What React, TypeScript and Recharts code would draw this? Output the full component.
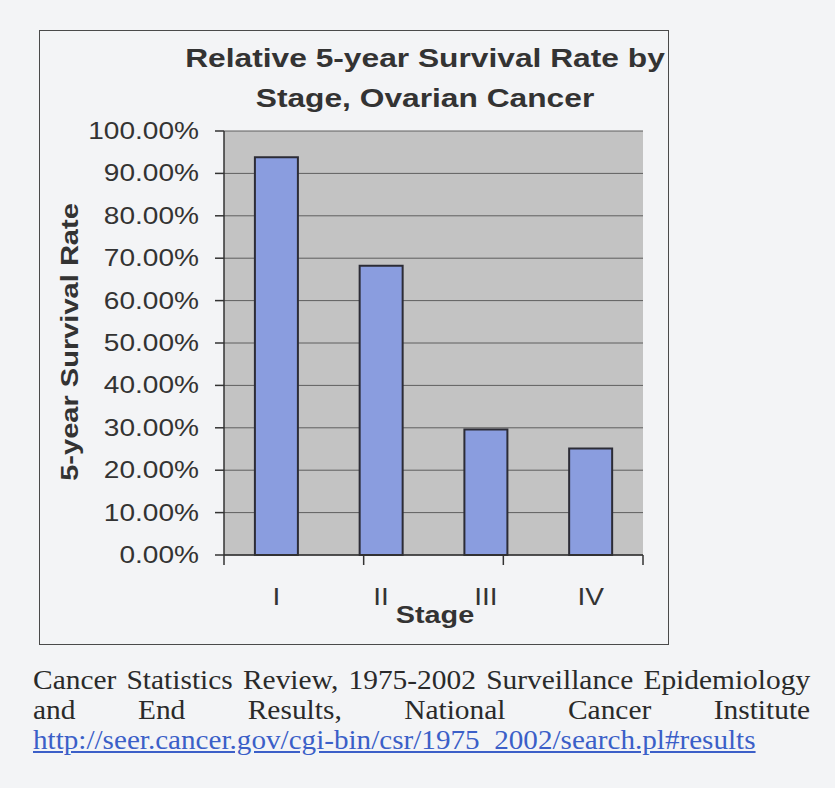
import { BarChart, Bar, XAxis, YAxis, CartesianGrid } from "recharts";

// values
const stages = ["I", "II", "III", "IV"];
const survival = [0.938, 0.682, 0.296, 0.251];
const yTicks = [0, 0.1, 0.2, 0.3, 0.4, 0.5, 0.6, 0.7, 0.8, 0.9, 1];
const edgeTicks = [0, 1, 2, 3, 4];

const data = stages.map((stage, i) => ({ stage, rate: survival[i] }));

const SANS = '"Liberation Sans", Arial, sans-serif';
const SERIF = '"Liberation Serif", "Times New Roman", serif';
const STRETCH = 1.22;
const INK = "#333333";

function YTick({ x, y, payload }: any) {
  return (
    <g transform={`translate(${x},${y}) scale(${STRETCH},1)`}>
      <text x={0} y={0} textAnchor="end" dominantBaseline="central" fontFamily={SANS} fontSize={23} fill={INK}>
        {(payload.value * 100).toFixed(2)}%
      </text>
    </g>
  );
}

function XTick({ x, y, payload }: any) {
  return (
    <g transform={`translate(${x},${y}) scale(${STRETCH},1)`}>
      <text x={0} y={0} textAnchor="middle" dominantBaseline="central" fontFamily={SANS} fontSize={23} fill={INK}>
        {payload.value}
      </text>
    </g>
  );
}

const NoLabel = () => <g />;

const abs = (left: number, top: number, extra: any = {}) => ({
  position: "absolute" as const,
  left,
  top,
  ...extra,
});

export default function App() {
  return (
    <div style={abs(0, 0, { width: 835, height: 788, background: "#f3f4f6", overflow: "hidden" })}>
      {/* chart frame */}
      <div style={abs(39, 30, { width: 630, height: 615, boxSizing: "border-box", border: "1.5px solid #4a4a4a" })} />

      <div style={abs(0, 30)}>
        <BarChart
          width={669}
          height={615}
          data={data}
          margin={{ top: 101, right: 26, left: 39, bottom: 0 }}
          barCategoryGap="29.5%"
        >
          <CartesianGrid xAxisId="b_cat" vertical={false} fill="#c3c3c3" stroke="#5e5e5e" fillOpacity={1} />
          {/* boundary ticks between stages, as in the original */}
          <XAxis
            xAxisId="a_edge"
            type="number"
            domain={[0, 4]}
            ticks={edgeTicks}
            allowDataOverflow
            interval={0}
            tick={<NoLabel />}
            tickSize={10}
            height={2}
            axisLine={{ stroke: "#333", strokeWidth: 1.5 }}
            tickLine={{ stroke: "#333", strokeWidth: 1.5 }}
          />
          <XAxis
            xAxisId="b_cat"
            dataKey="stage"
            axisLine={false}
            tickLine={false}
            tickSize={0}
            tickMargin={40}
            height={88}
            tick={<XTick />}
          />
          <YAxis
            domain={[0, 1]}
            ticks={yTicks}
            width={185}
            tickSize={9}
            tickMargin={16}
            axisLine={{ stroke: "#333", strokeWidth: 1.5 }}
            tickLine={{ stroke: "#333", strokeWidth: 1.5 }}
            tick={<YTick />}
          />
          <Bar
            xAxisId="b_cat"
            dataKey="rate"
            fill="#8a9ddf"
            stroke="#2c2c36"
            strokeWidth={2}
            isAnimationActive={false}
          />
        </BarChart>
      </div>

      {/* title */}
      <div style={abs(125, 43, { width: 600, textAlign: "center", font: `bold 26px ${SANS}`, lineHeight: "30px", color: INK, transform: `scaleX(1.22)` })}>
        Relative 5-year Survival Rate by
      </div>
      <div style={abs(125, 83, { width: 600, textAlign: "center", font: `bold 26px ${SANS}`, lineHeight: "30px", color: INK, transform: `scaleX(1.22)` })}>
        Stage, Ovarian Cancer
      </div>

      {/* axis titles */}
      <div style={abs(-80, 327, { width: 300, textAlign: "center", font: `bold 24px ${SANS}`, lineHeight: "30px", color: INK, transform: "rotate(-90deg) scaleX(1.21)" })}>
        5-year Survival Rate
      </div>
      <div style={abs(335, 600, { width: 200, textAlign: "center", font: `bold 24px ${SANS}`, lineHeight: "30px", color: INK, transform: "scaleX(1.2)" })}>
        Stage
      </div>

      {/* source note */}
      <div style={abs(33, 665, { width: 713, font: `27px ${SERIF}`, lineHeight: "30px", color: "#2a2a2a", transform: "scaleX(1.09)", transformOrigin: "0 0" })}>
        <div style={{ whiteSpace: "nowrap", textAlign: "justify", textAlignLast: "justify" }}>
          Cancer Statistics Review, 1975-2002 Surveillance Epidemiology
        </div>
        <div style={{ whiteSpace: "nowrap", textAlign: "justify", textAlignLast: "justify" }}>
          and End Results, National Cancer Institute
        </div>
        <div style={{ whiteSpace: "nowrap", color: "#3b5fc8", textDecoration: "underline", transform: "scaleX(0.99)", transformOrigin: "0 0" }}>
          http://seer.cancer.gov/cgi-bin/csr/1975_2002/search.pl#results
        </div>
      </div>
    </div>
  );
}
